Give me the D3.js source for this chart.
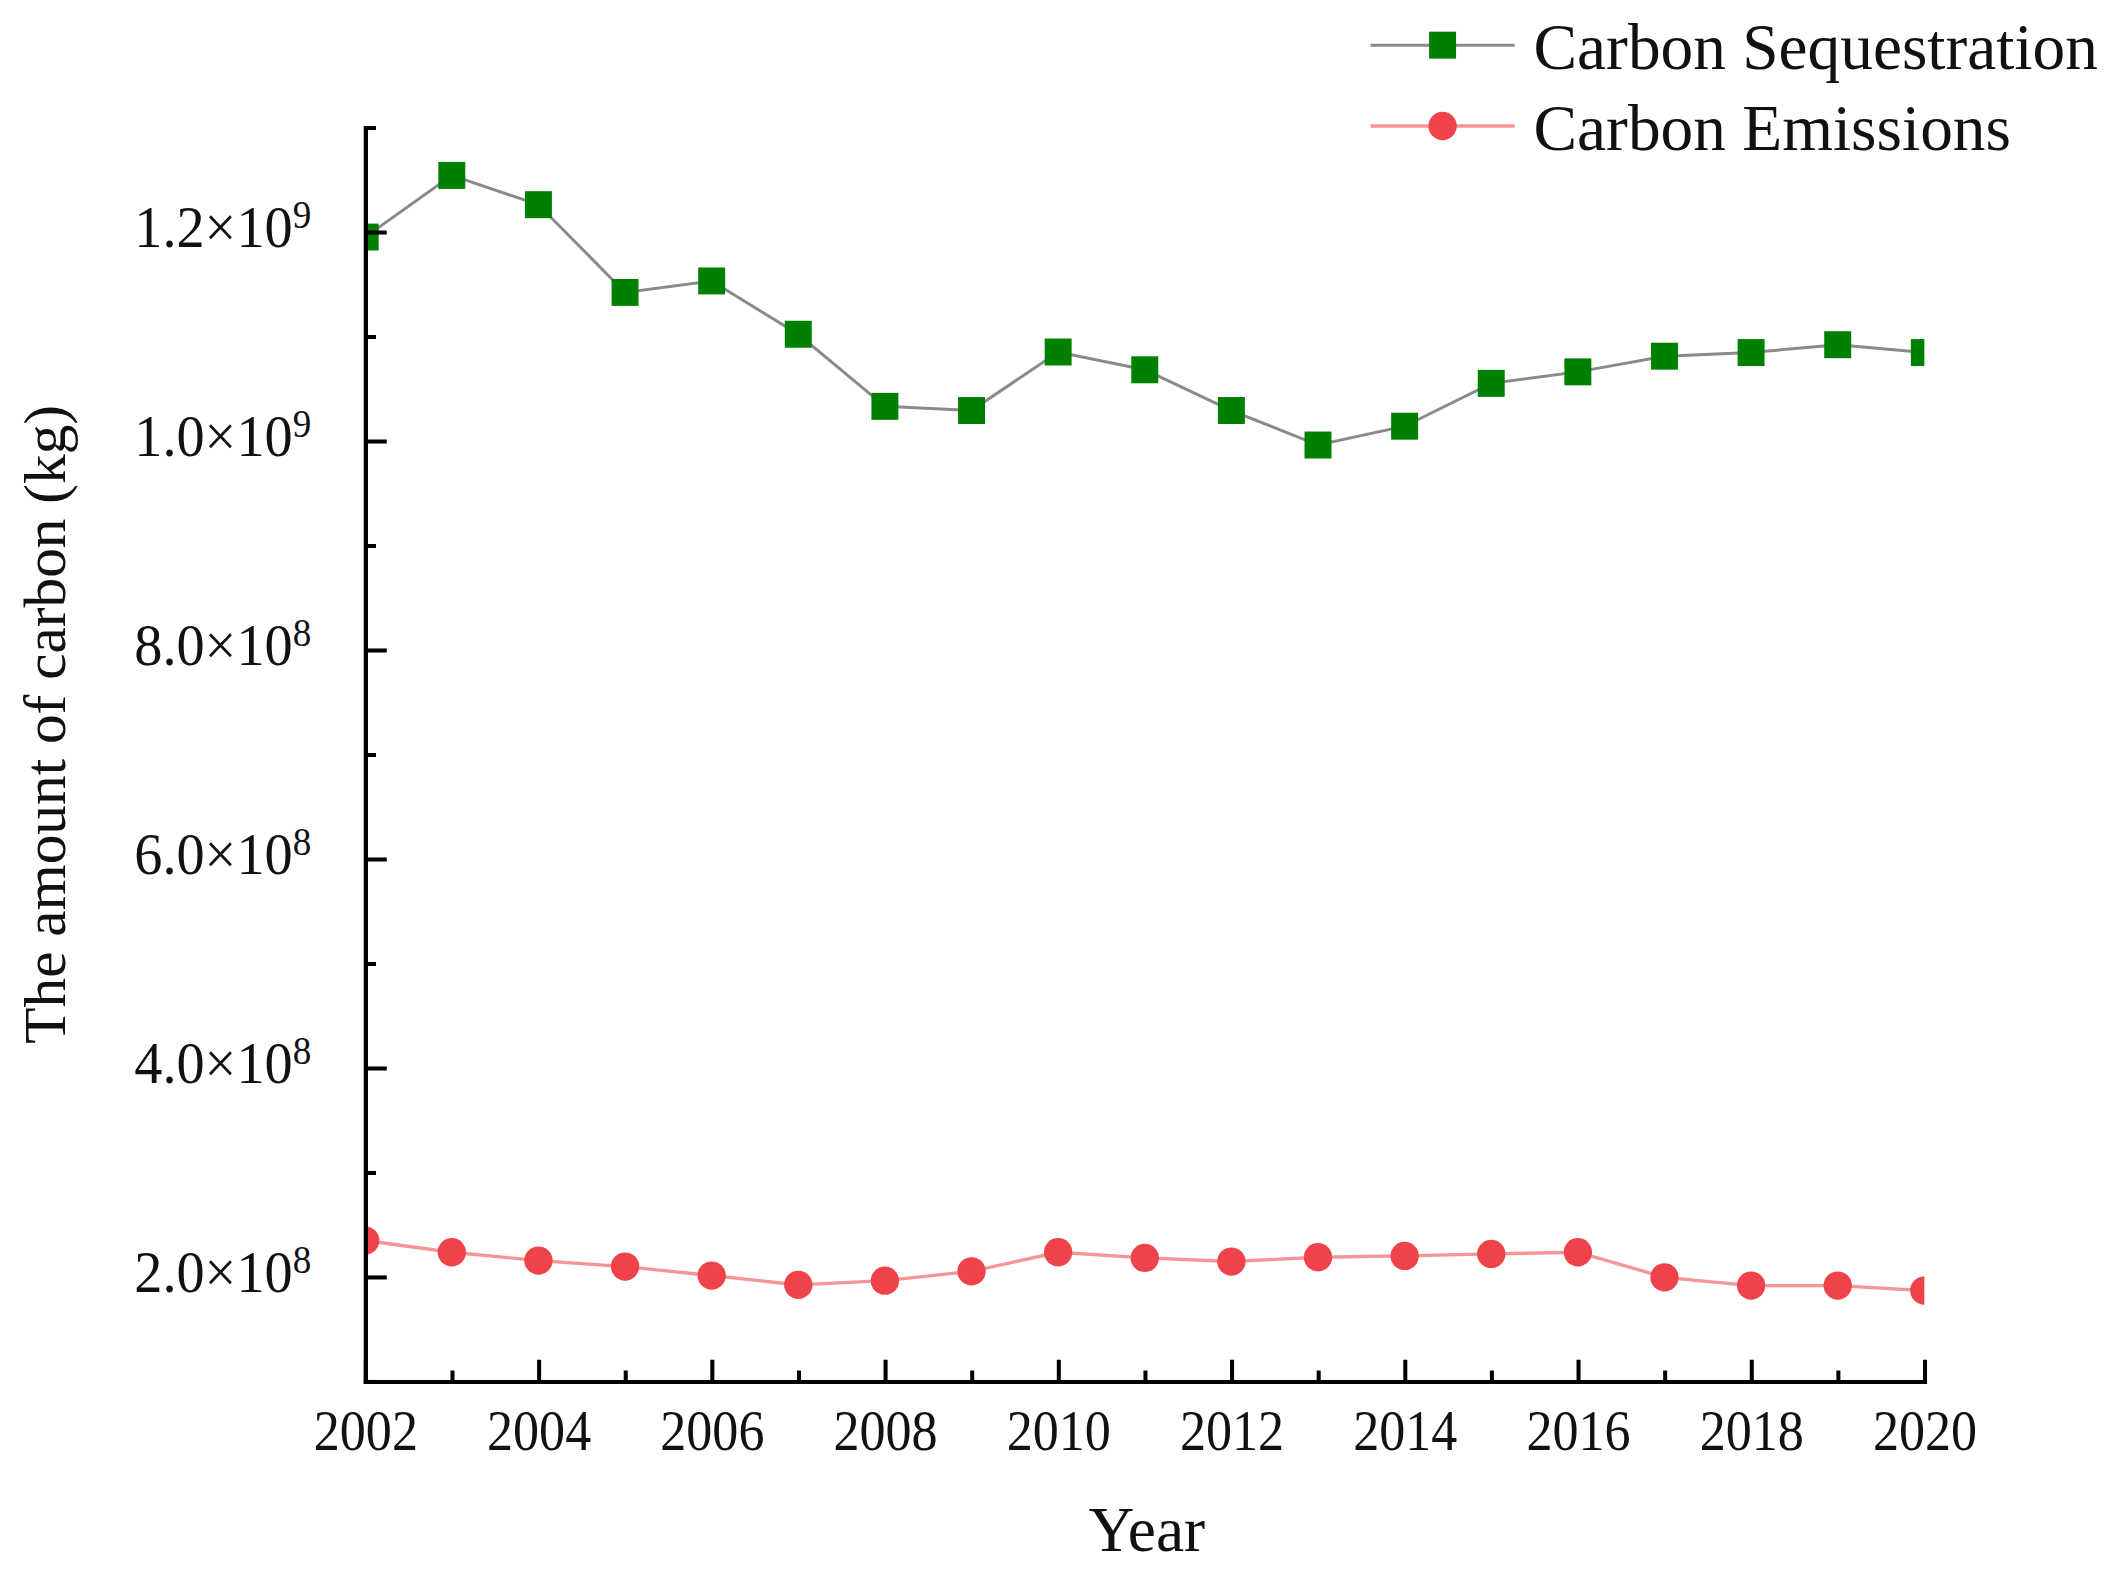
<!DOCTYPE html>
<html>
<head>
<meta charset="utf-8">
<script src="https://cdn.jsdelivr.net/npm/d3@7"></script>
<style>
html, body { margin: 0; padding: 0; background: #ffffff; }
svg { display: block; }
</style>
</head>
<body>
<svg id="chart"></svg>
<script>
// ---------------- data ----------------
const years = [2002, 2003, 2004, 2005, 2006, 2007, 2008, 2009, 2010, 2011,
               2012, 2013, 2014, 2015, 2016, 2017, 2018, 2019, 2020];
const sequestration = [1.195e9, 1.254e9, 1.226e9, 1.142e9, 1.153e9, 1.102e9, 1.033e9, 1.029e9, 1.085e9, 1.068e9,
                       1.029e9, 0.996e9, 1.014e9, 1.055e9, 1.066e9, 1.081e9, 1.0845e9, 1.092e9, 1.0845e9];
const emissions = [2.347e8, 2.235e8, 2.155e8, 2.098e8, 2.012e8, 1.923e8, 1.963e8, 2.052e8, 2.235e8, 2.181e8,
                   2.146e8, 2.187e8, 2.200e8, 2.219e8, 2.235e8, 1.995e8, 1.916e8, 1.916e8, 1.868e8];
const seriesNames = ["Carbon Sequestration", "Carbon Emissions"];

const xMajorTicks = [2002, 2004, 2006, 2008, 2010, 2012, 2014, 2016, 2018, 2020];
const xMinorTicks = [2003, 2005, 2007, 2009, 2011, 2013, 2015, 2017, 2019];
const yMajorTicks = [2e8, 4e8, 6e8, 8e8, 1.0e9, 1.2e9];
const yTickMantissa = ["2.0", "4.0", "6.0", "8.0", "1.0", "1.2"];
const yTickExponent = ["8", "8", "8", "8", "9", "9"];
const yMinorTicks = [1e8, 3e8, 5e8, 7e8, 9e8, 1.1e9, 1.3e9];

const xTitle = "Year";
const yTitle = "The amount of carbon (kg)";

// ---------------- layout / style ----------------
const VW = 1568, VH = 1168;
const FONT = "'Liberation Serif', 'Times New Roman', Times, serif";
const plot = { left: 271, right: 1428, top: 94.5, bottom: 1025 };
const colors = {
  seqMarker: "#008000", seqLine: "#8a8a8a",
  emiMarker: "#f0424a", emiLine: "#f59598"
};

const svg = d3.select("#chart")
  .attr("width", 2113).attr("height", 1574)
  .attr("viewBox", `0 0 ${VW} ${VH}`)
  .attr("preserveAspectRatio", "none")
  .style("font-family", FONT);

svg.append("rect").attr("width", VW).attr("height", VH).attr("fill", "#ffffff");

const x = d3.scaleLinear().domain([2002, 2020]).range([plot.left, plot.right]);
const y = d3.scaleLinear().domain([1e8, 1.3e9]).range([plot.bottom, plot.top]);

svg.append("defs").append("clipPath").attr("id", "plotclip")
  .append("rect")
  .attr("x", plot.left).attr("y", 0)
  .attr("width", plot.right - plot.left).attr("height", plot.bottom);

const seqData = years.map((yr, i) => ({ year: yr, v: sequestration[i] }));
const emiData = years.map((yr, i) => ({ year: yr, v: emissions[i] }));

const line = d3.line().x(d => x(d.year)).y(d => y(d.v));

const plotG = svg.append("g").attr("clip-path", "url(#plotclip)");

// Sequestration
plotG.append("path").datum(seqData)
  .attr("d", line).attr("fill", "none")
  .attr("stroke", colors.seqLine).attr("stroke-width", 2.2);
plotG.selectAll("rect.seq").data(seqData).enter().append("rect")
  .attr("class", "seq")
  .attr("x", d => x(d.year) - 10).attr("y", d => y(d.v) - 10)
  .attr("width", 20).attr("height", 20)
  .attr("fill", colors.seqMarker);

// Emissions
plotG.append("path").datum(emiData)
  .attr("d", line).attr("fill", "none")
  .attr("stroke", colors.emiLine).attr("stroke-width", 2.5);
plotG.selectAll("circle.emi").data(emiData).enter().append("circle")
  .attr("class", "emi")
  .attr("cx", d => x(d.year)).attr("cy", d => y(d.v))
  .attr("r", 10.5)
  .attr("fill", colors.emiMarker);

// ---------------- axes ----------------
function styleAxis(g) {
  g.select(".domain").attr("stroke", "#000").attr("stroke-width", 3).attr("stroke-linecap", "square");
  g.selectAll(".tick line").attr("stroke", "#000").attr("stroke-width", 3);
}

// X axis
const gxMinor = svg.append("g").attr("transform", `translate(0,${plot.bottom})`)
  .call(d3.axisBottom(x).tickValues(xMinorTicks).tickSizeInner(-8).tickSizeOuter(0).tickFormat(""));
gxMinor.selectAll("text").remove();
styleAxis(gxMinor);

const gxMajor = svg.append("g").attr("transform", `translate(0,${plot.bottom})`)
  .call(d3.axisBottom(x).tickValues(xMajorTicks).tickSizeInner(-16).tickSizeOuter(0).tickFormat(d3.format("d")));
styleAxis(gxMajor);
gxMajor.selectAll(".tick text")
  .attr("y", 51).attr("dy", 0)
  .attr("font-size", 42).attr("font-family", FONT).attr("fill", "#111")
  .attr("transform", "scale(0.92,1)");

// Y axis
const gyMinor = svg.append("g").attr("transform", `translate(${plot.left},0)`)
  .call(d3.axisLeft(y).tickValues(yMinorTicks).tickSizeInner(-8).tickSizeOuter(0).tickFormat(""));
gyMinor.selectAll("text").remove();
styleAxis(gyMinor);

const gyMajor = svg.append("g").attr("transform", `translate(${plot.left},0)`)
  .call(d3.axisLeft(y).tickValues(yMajorTicks).tickSizeInner(-16).tickSizeOuter(0).tickFormat(""));
gyMajor.selectAll("text").remove();
styleAxis(gyMajor);

gyMajor.selectAll(".tick").each(function (d) {
  const i = yMajorTicks.indexOf(d);
  const t = d3.select(this).append("text")
    .attr("text-anchor", "end")
    .attr("transform", "translate(-40,11) scale(0.95,1)")
    .attr("font-family", FONT)
    .attr("fill", "#111");
  t.append("tspan").attr("font-size", 44).text(yTickMantissa[i] + "\u00D710");
  t.append("tspan").attr("font-size", 29).attr("dy", -14.5).text(yTickExponent[i]);
});

// Axis titles
svg.append("text")
  .attr("x", 851).attr("y", 1151)
  .attr("text-anchor", "middle")
  .attr("font-size", 47).attr("fill", "#111")
  .text(xTitle);

svg.append("text")
  .attr("transform", "translate(48,537.5) rotate(-90)")
  .attr("text-anchor", "middle")
  .attr("font-size", 44).attr("fill", "#111")
  .text(yTitle);

// ---------------- legend ----------------
const legendItems = [
  { name: seriesNames[0], line: colors.seqLine, fill: colors.seqMarker, shape: "square", lw: 2.2 },
  { name: seriesNames[1], line: colors.emiLine, fill: colors.emiMarker, shape: "circle", lw: 2.5 }
];
const legend = svg.append("g").attr("transform", "translate(1017,33.5)");
const li = legend.selectAll("g.item").data(legendItems).enter().append("g")
  .attr("class", "item")
  .attr("transform", (d, i) => `translate(0,${i * 60})`);
li.append("line").attr("x1", 0).attr("x2", 107).attr("y1", 0).attr("y2", 0)
  .attr("stroke", d => d.line).attr("stroke-width", d => d.lw);
li.each(function (d) {
  const g = d3.select(this);
  if (d.shape === "square") {
    g.append("rect").attr("x", 53.5 - 10).attr("y", -10).attr("width", 20).attr("height", 20).attr("fill", d.fill);
  } else {
    g.append("circle").attr("cx", 53.5).attr("cy", 0).attr("r", 10.5).attr("fill", d.fill);
  }
});
li.append("text")
  .attr("x", 121).attr("y", 17.5)
  .attr("font-size", 48.5).attr("fill", "#111")
  .text(d => d.name);
</script>
</body>
</html>
